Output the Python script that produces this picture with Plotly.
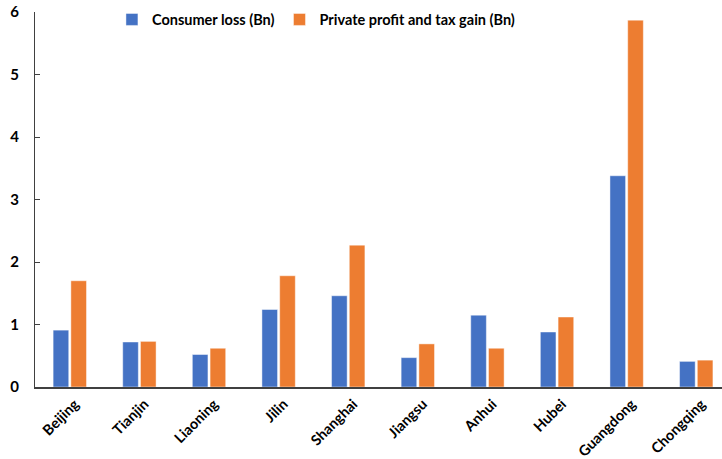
import plotly.graph_objects as go

provinces = ["Beijing", "Tianjin", "Liaoning", "Jilin", "Shanghai",
             "Jiangsu", "Anhui", "Hubei", "Guangdong", "Chongqing"]
consumer_loss = [0.91, 0.72, 0.52, 1.24, 1.46, 0.47, 1.15, 0.88, 3.38, 0.41]
profit_tax_gain = [1.70, 0.73, 0.62, 1.78, 2.27, 0.69, 0.62, 1.12, 5.87, 0.43]
y_ticks = [0, 1, 2, 3, 4, 5, 6]

FONT = "Lato"
BLUE = "#4472C4"
ORANGE = "#ED7D31"

fig = go.Figure()
fig.add_trace(go.Bar(
    x=provinces, y=consumer_loss, name="Consumer loss (Bn)",
    marker=dict(color=BLUE, line=dict(color="rgba(255,255,255,0.45)", width=1)),
))
fig.add_trace(go.Bar(
    x=provinces, y=profit_tax_gain, name="Private profit and tax gain (Bn)",
    marker=dict(color=ORANGE, line=dict(color="rgba(255,255,255,0.45)", width=1)),
))

fig.update_layout(
    width=722, height=459,
    margin=dict(l=35, r=0, t=12, b=72),
    paper_bgcolor="white", plot_bgcolor="white",
    barmode="group", bargap=0.49, bargroupgap=0.12,
    font=dict(family=FONT, size=14, color="black"),
    showlegend=True,
    legend=dict(
        orientation="h", x=0.112, y=0.98, xanchor="left", yanchor="middle",
        font=dict(family=FONT, size=14.5, color="black", weight="bold"),
        bgcolor="rgba(0,0,0,0)", itemwidth=30, traceorder="normal",
    ),
    xaxis=dict(
        range=[-0.5, 9.37], showgrid=False, zeroline=False, automargin=False,
        showline=True, linecolor="#404040", linewidth=2,
        ticks="", tickangle=-45, ticklabelstandoff=1, ticklabelshift=5,
        tickfont=dict(family=FONT, size=14.5, color="black", weight="bold"),
    ),
    yaxis=dict(
        range=[0, 6], tickvals=y_ticks, showgrid=False, zeroline=False,
        automargin=False,
        showline=True, linecolor="#404040", linewidth=1.3,
        ticks="inside", ticklen=5, tickcolor="#404040", tickwidth=1,
        ticklabelstandoff=12,
        tickfont=dict(family=FONT, size=15, color="black", weight="bold"),
    ),
)

fig.write_html("out.html")
